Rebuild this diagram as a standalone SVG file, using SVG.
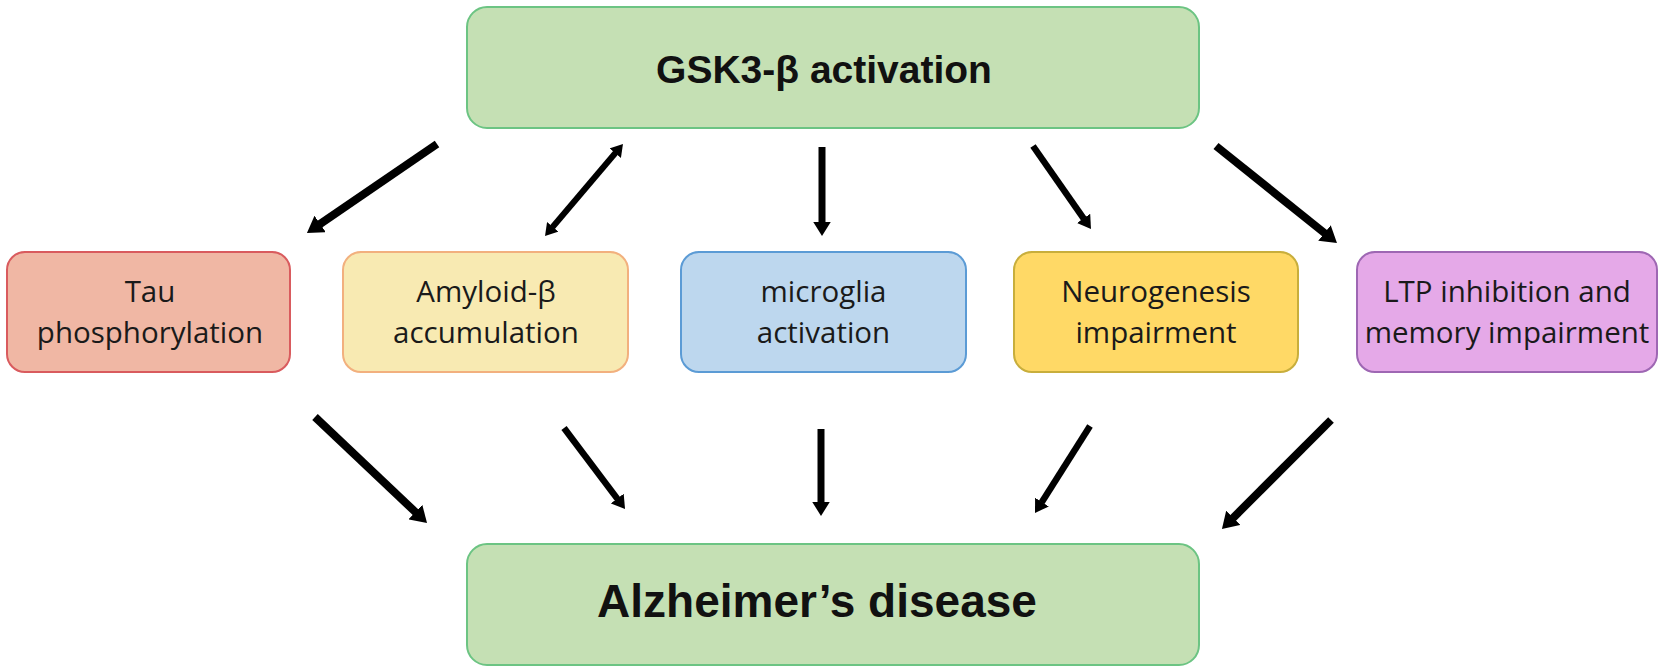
<svg xmlns="http://www.w3.org/2000/svg" width="1666" height="671" viewBox="0 0 1666 671">
<defs>
<style>
.box{stroke-width:2}
.t{font-family:"Open Sans","Liberation Sans",Arial,sans-serif;font-size:29.5px;fill:#1a1a1a;text-anchor:middle}
.big{font-family:"Liberation Sans",Arial,sans-serif;font-weight:bold;fill:#111;text-anchor:middle}
.c{stroke:#000;fill:none;stroke-linecap:butt}
</style>
<marker id="ah" viewBox="0 0 2 2.5" refX="0.1" refY="1.25" markerWidth="2" markerHeight="2.5" markerUnits="strokeWidth" orient="auto-start-reverse">
<path d="M0,0 L2,1.25 L0,2.5 z" fill="#000"/>
</marker>
</defs>
<rect width="1666" height="671" fill="#fff"/>
<g id="gsk3">
<rect class="box" x="467" y="7" width="732" height="121" rx="20" fill="#c5e0b4" stroke="#6cc483"/>
<text class="big" x="824" y="83" font-size="39">GSK3-β activation</text>
</g>
<g id="tau">
<rect class="box" x="7" y="252" width="283" height="120" rx="18" fill="#f0b7a4" stroke="#d95b5e"/>
<text class="t" x="150" y="302">Tau</text>
<text class="t" x="150" y="343">phosphorylation</text>
</g>
<g id="amyloid">
<rect class="box" x="343" y="252" width="285" height="120" rx="18" fill="#f8eab2" stroke="#f2b07e"/>
<text class="t" x="486" y="302">Amyloid-β</text>
<text class="t" x="486" y="343">accumulation</text>
</g>
<g id="microglia">
<rect class="box" x="681" y="252" width="285" height="120" rx="18" fill="#bdd7ee" stroke="#5b9bd5"/>
<text class="t" x="823.5" y="302">microglia</text>
<text class="t" x="823.5" y="343">activation</text>
</g>
<g id="neurogenesis">
<rect class="box" x="1014" y="252" width="284" height="120" rx="18" fill="#ffd966" stroke="#c8ae3c"/>
<text class="t" x="1156" y="302">Neurogenesis</text>
<text class="t" x="1156" y="343">impairment</text>
</g>
<g id="ltp">
<rect class="box" x="1357" y="252" width="300" height="120" rx="18" fill="#e5a9e8" stroke="#9e67b3"/>
<text class="t" x="1507" y="302">LTP inhibition and</text>
<text class="t" x="1507" y="343">memory impairment</text>
</g>
<g id="alzheimers">
<rect class="box" x="467" y="544" width="732" height="121" rx="20" fill="#c5e0b4" stroke="#6cc483"/>
<text class="big" x="817" y="617" font-size="46">Alzheimer’s disease</text>
</g>
<g id="connectors">
<line class="c" x1="437" y1="144" x2="319.5" y2="224.4" stroke-width="8" marker-end="url(#ah)"/>
<line class="c" x1="552.4" y1="227.3" x2="615.6" y2="152.7" stroke-width="6" marker-start="url(#ah)" marker-end="url(#ah)"/>
<line class="c" x1="822" y1="147" x2="822" y2="222.7" stroke-width="7" marker-end="url(#ah)"/>
<line class="c" x1="1033" y1="146" x2="1083.9" y2="218.9" stroke-width="6.5" marker-end="url(#ah)"/>
<line class="c" x1="1216" y1="146" x2="1325.1" y2="233.5" stroke-width="8" marker-end="url(#ah)"/>
<line class="c" x1="315" y1="417" x2="416" y2="512.6" stroke-width="8" marker-end="url(#ah)"/>
<line class="c" x1="564" y1="428" x2="617.6" y2="499.1" stroke-width="6.5" marker-end="url(#ah)"/>
<line class="c" x1="821" y1="429" x2="821" y2="502.7" stroke-width="7" marker-end="url(#ah)"/>
<line class="c" x1="1090" y1="426" x2="1041.6" y2="502.6" stroke-width="6.5" marker-end="url(#ah)"/>
<line class="c" x1="1331" y1="420" x2="1232.7" y2="518.3" stroke-width="8" marker-end="url(#ah)"/>
</g>
</svg>
